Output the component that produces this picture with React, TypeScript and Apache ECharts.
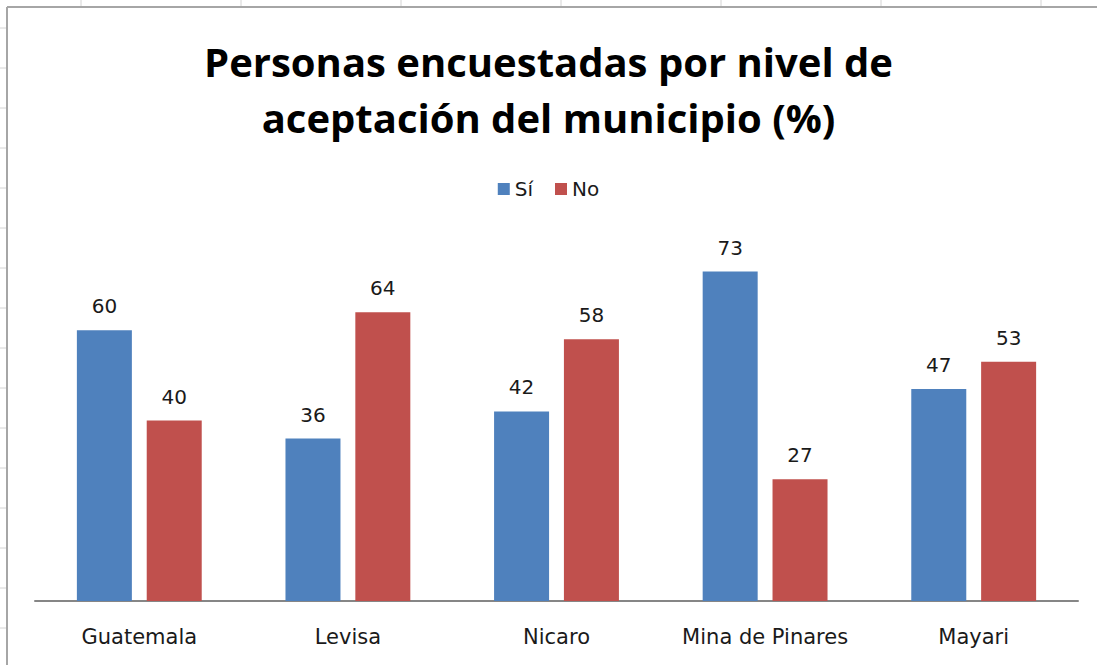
import React, { useEffect, useRef } from "react";
import * as echarts from "echarts";

const categories = ["Guatemala", "Levisa", "Nicaro", "Mina de Pinares", "Mayari"];
const seriesNames = ["Sí", "No"];
const siValues = [60, 36, 42, 73, 47];
const noValues = [40, 64, 58, 27, 53];
const titleLines = ["Personas encuestadas por nivel de", "aceptación del municipio (%)"];

export default function App() {
  const ref = useRef<HTMLDivElement>(null);
  useEffect(() => {
    const chart = echarts.init(ref.current!, null, { renderer: "svg" });
    const colTicks = [81, 241, 401, 561, 721, 881, 1041].map((x) => ({
      type: "line",
      shape: { x1: x, y1: 0, x2: x, y2: 6 },
      style: { stroke: "#d4d4d4", lineWidth: 1 },
      silent: true,
    }));
    const rowTicks: any[] = [];
    for (let y = 28; y < 665; y += 40) {
      rowTicks.push({
        type: "line",
        shape: { x1: 0, y1: y, x2: 6, y2: y },
        style: { stroke: "#d4d4d4", lineWidth: 1 },
        silent: true,
      });
    }
    const labelStyle = {
      show: true,
      position: "top",
      distance: 14,
      fontFamily: "DejaVu Sans",
      fontSize: 20,
      color: "#1a1a1a",
    };
    chart.setOption({
      animation: false,
      backgroundColor: "#ffffff",
      title: {
        text: titleLines.join("\n"),
        left: "center",
        top: 28,
        textStyle: {
          fontFamily: "Open Sans",
          fontWeight: "bold",
          fontSize: 40,
          lineHeight: 56,
          color: "#000000",
        },
      },
      legend: {
        data: seriesNames,
        top: 174,
        left: "center",
        itemWidth: 12,
        itemHeight: 12,
        itemGap: 22,
        icon: "rect",
        textStyle: { fontFamily: "DejaVu Sans", fontSize: 20, color: "#1a1a1a" },
      },
      grid: { left: 35, right: 19, top: 240, bottom: 64, containLabel: false },
      xAxis: {
        type: "category",
        data: categories,
        axisLine: { lineStyle: { color: "#868686", width: 2 } },
        axisTick: { show: false },
        axisLabel: {
          interval: 0,
          fontFamily: "DejaVu Sans",
          fontSize: 21,
          color: "#1a1a1a",
          margin: 25,
        },
      },
      yAxis: {
        type: "value",
        min: 0,
        max: 80,
        interval: 10,
        show: false,
        splitLine: { show: false },
      },
      series: [
        {
          name: seriesNames[0],
          type: "bar",
          data: siValues,
          barWidth: 55,
          barGap: "27%",
          itemStyle: { color: "#4F81BD" },
          label: labelStyle,
        },
        {
          name: seriesNames[1],
          type: "bar",
          data: noValues,
          barWidth: 55,
          barGap: "27%",
          itemStyle: { color: "#C0504D" },
          label: labelStyle,
        },
      ],
      graphic: [
        ...colTicks,
        ...rowTicks,
        {
          type: "line",
          shape: { x1: 7, y1: 7, x2: 1097, y2: 7 },
          style: { stroke: "#a6a6a6", lineWidth: 2 },
          silent: true,
        },
        {
          type: "line",
          shape: { x1: 7, y1: 7, x2: 7, y2: 665 },
          style: { stroke: "#a6a6a6", lineWidth: 2 },
          silent: true,
        },
      ],
    });
    return () => chart.dispose();
  }, []);
  return (
    <div
      ref={ref}
      style={{ position: "absolute", left: 0, top: 0, width: 1097, height: 665 }}
    />
  );
}
